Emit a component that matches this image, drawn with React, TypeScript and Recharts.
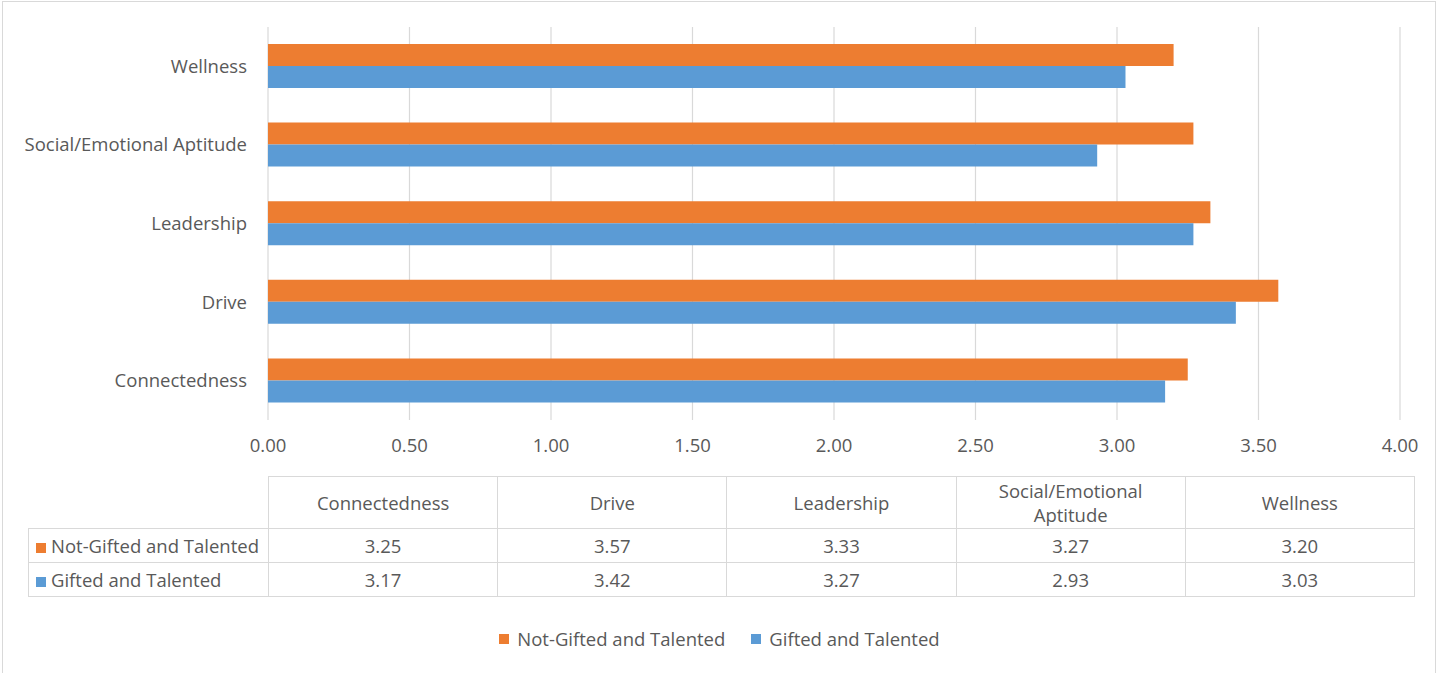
import React from "react";
import { BarChart, Bar, XAxis, YAxis, CartesianGrid, Legend } from "recharts";

const categories = ["Connectedness", "Drive", "Leadership", "Social/Emotional Aptitude", "Wellness"];
const notGifted = [3.25, 3.57, 3.33, 3.27, 3.2];
const gifted = [3.17, 3.42, 3.27, 2.93, 3.03];
const xTicks = [0, 0.5, 1, 1.5, 2, 2.5, 3, 3.5, 4];
const seriesNames = ["Not-Gifted and Talented", "Gifted and Talented"];
const seriesColors = ["#ED7D31", "#5B9BD5"];

const FONT = "'Open Sans', sans-serif";
const FS = 18.5;
const TEXT = "#595959";
const GRID = "#d9d9d9";

const data = categories.map((c, i) => ({ name: c, notGifted: notGifted[i], gifted: gifted[i] }));

const LegendContent = (props: any) => {
  const payload = [...(props.payload || [])].sort(
    (a: any, b: any) => seriesNames.indexOf(a.value) - seriesNames.indexOf(b.value)
  );
  return (
    <div style={{ display: "flex", justifyContent: "center", fontFamily: FONT, fontSize: FS, color: TEXT }}>
      {payload.map((p: any, i: number) => (
        <div key={i} style={{ display: "flex", alignItems: "center", marginRight: i === 0 ? 26 : 0 }}>
          <span style={{ width: 10, height: 10, background: p.color, display: "inline-block", marginRight: 8 }} />
          <span>{p.value}</span>
        </div>
      ))}
    </div>
  );
};

export default function App() {
  const colLeft = 268;
  const colW = 229.2;
  const cellBorder = `1px solid ${GRID}`;
  const tableRows = [notGifted, gifted];
  return (
    <div style={{ position: "absolute", left: 0, top: 0, width: 1439, height: 673, background: "#fff", overflow: "hidden" }}>
      <div style={{ position: "absolute", left: 2, top: 1, width: 1434, height: 690, border: cellBorder, boxSizing: "border-box" }} />
      <div style={{ position: "absolute", left: 0, top: 0 }}>
        <BarChart
          width={1439}
          height={673}
          data={data}
          layout="vertical"
          margin={{ top: 27, right: 39, left: 0, bottom: 223 }}
          barSize={22}
          barGap={0}
        >
          <CartesianGrid horizontal={false} stroke={GRID} strokeWidth={1.2} />
          <XAxis
            type="number"
            domain={[0, 4]}
            ticks={xTicks}
            tickFormatter={(v: number) => v.toFixed(2)}
            axisLine={false}
            tickLine={false}
            tickSize={0}
            tickMargin={19}
            height={30}
            tick={{ fill: TEXT, fontSize: FS, fontFamily: FONT }}
          />
          <YAxis
            type="category"
            dataKey="name"
            reversed
            width={268}
            axisLine={false}
            tickLine={false}
            tickSize={0}
            tickMargin={21}
            tick={{ fill: TEXT, fontSize: FS, fontFamily: FONT }}
          />
          <Bar dataKey="notGifted" name={seriesNames[0]} fill={seriesColors[0]} isAnimationActive={false} />
          <Bar dataKey="gifted" name={seriesNames[1]} fill={seriesColors[1]} isAnimationActive={false} />
          <Legend
            verticalAlign="middle"
            layout="horizontal"
            content={<LegendContent />}
            wrapperStyle={{ top: 626, left: 0, width: 1439 }}
          />
        </BarChart>
      </div>
      <table
        style={{
          position: "absolute",
          left: 28,
          top: 476,
          borderCollapse: "collapse",
          tableLayout: "fixed",
          fontFamily: FONT,
          fontSize: FS,
          color: TEXT,
        }}
      >
        <colgroup>
          <col style={{ width: colLeft - 28 }} />
          {categories.map((c) => (
            <col key={c} style={{ width: colW }} />
          ))}
        </colgroup>
        <tbody>
          <tr style={{ height: 52 }}>
            <td style={{ padding: 0 }} />
            {categories.map((c) => (
              <td key={c} style={{ border: cellBorder, textAlign: "center", padding: "0 12px", lineHeight: "24px" }}>
                {c}
              </td>
            ))}
          </tr>
          {tableRows.map((row, r) => (
            <tr key={r} style={{ height: 34 }}>
              <td style={{ border: cellBorder, padding: "0 0 0 7px", whiteSpace: "nowrap", lineHeight: "24px" }}>
                <span
                  style={{
                    display: "inline-block",
                    width: 10,
                    height: 10,
                    background: seriesColors[r],
                    marginRight: 5,
                  }}
                />
                {seriesNames[r]}
              </td>
              {row.map((v, i) => (
                <td key={i} style={{ border: cellBorder, textAlign: "center", padding: 0, lineHeight: "24px" }}>
                  {v.toFixed(2)}
                </td>
              ))}
            </tr>
          ))}
        </tbody>
      </table>
    </div>
  );
}
